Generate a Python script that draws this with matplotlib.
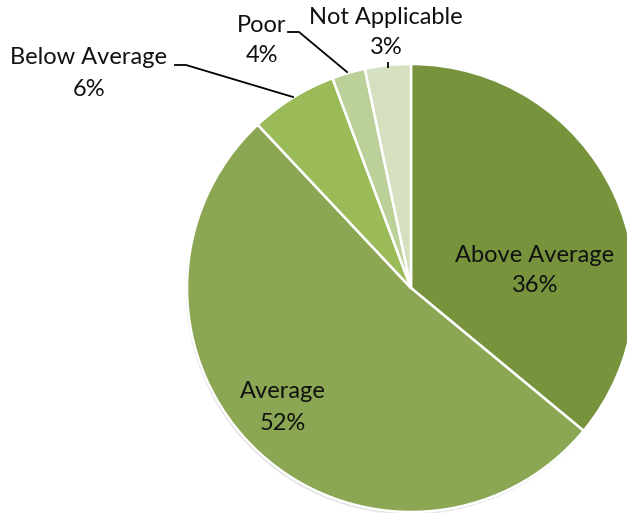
import matplotlib
matplotlib.use("Agg")
import matplotlib.pyplot as plt
from matplotlib.patches import Circle

# ---- data (clockwise from 12 o'clock) ----
categories = ["Above Average", "Average", "Below Average", "Poor", "Not Applicable"]
shares = [36, 52, 6.3, 2.4, 3.3]                    # slice sizes as drawn
pct_labels = ["36%", "52%", "6%", "4%", "3%"]       # printed labels
colors = ["#77933c", "#8ba753", "#9bbb59", "#bcd09a", "#d4e0bf"]

plt.rcParams["font.family"] = ["Lato", "DejaVu Sans"]

W, H = 627, 513
fig = plt.figure(figsize=(W / 100, H / 100), dpi=100)
ax = fig.add_axes([0, 0, 1, 1])

cx, cy, r = 411, H - 288, 224

# faint drop shadow under the pie
for k, a in ((3, 0.10), (2, 0.15), (1, 0.2)):
    ax.add_patch(Circle((cx - 1, cy - k), r, facecolor="#808080", alpha=a,
                        edgecolor="none", zorder=1))

wedges, _ = ax.pie(shares, colors=colors, startangle=90, counterclock=False,
                   center=(cx, cy), radius=r,
                   wedgeprops=dict(edgecolor="white", linewidth=1.8))
for w in wedges:
    w.set_zorder(2)

ax.set_xlim(0, W)
ax.set_ylim(0, H)
ax.set_aspect("auto")
ax.axis("off")

fs = 17
def lab(x, y, name, pct):
    ax.text(x, H - y, name, ha="center", va="center", fontsize=fs, color="#111111", zorder=5)
    ax.text(x, H - y - 31, pct, ha="center", va="center", fontsize=fs, color="#111111", zorder=5)

lab(535, 255, categories[0], pct_labels[0])
lab(283, 392, categories[1], pct_labels[1])
lab(89, 58, categories[2], pct_labels[2])
lab(262, 25, categories[3], pct_labels[3])
lab(386, 17, categories[4], pct_labels[4])

# leader lines
ax.plot([175, 186, 293], [H - 65, H - 65, H - 97], color="black", lw=1.3, zorder=4)
ax.plot([288, 299, 347], [H - 32, H - 32, H - 72], color="black", lw=1.3, zorder=4)
ax.plot([388, 388], [H - 63, H - 67], color="black", lw=1.3, zorder=4)

fig.savefig("out.png", dpi=100)
